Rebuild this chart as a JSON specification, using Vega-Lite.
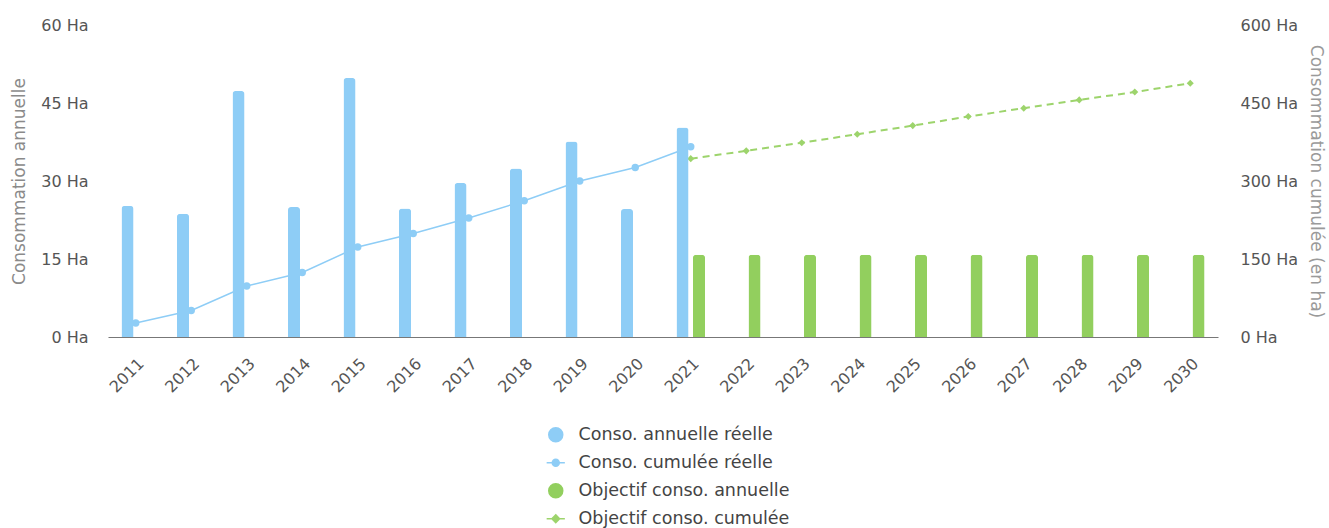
{
  "$schema": "https://vega.github.io/schema/vega-lite/v6.json",
  "width": 1110,
  "height": 312,
  "autosize": {"type": "none"},
  "padding": {"left": 108, "top": 25, "right": 111, "bottom": 191},
  "background": "white",
  "config": {
    "font": "DejaVu Sans",
    "view": {"stroke": null},
    "axis": {
      "grid": false,
      "ticks": false,
      "domain": false,
      "labelFont": "DejaVu Sans",
      "labelFontSize": 16,
      "labelColor": "#555555",
      "titleFont": "DejaVu Sans",
      "titleFontSize": 17,
      "titleFontWeight": "normal",
      "titleColor": "#8a8a8a"
    }
  },
  "data": {
    "values": [
      {"annee": "2011", "serie": "Conso. annuelle réelle", "valeur": 25.2},
      {"annee": "2012", "serie": "Conso. annuelle réelle", "valeur": 23.7},
      {"annee": "2013", "serie": "Conso. annuelle réelle", "valeur": 47.3},
      {"annee": "2014", "serie": "Conso. annuelle réelle", "valeur": 25.0},
      {"annee": "2015", "serie": "Conso. annuelle réelle", "valeur": 49.8},
      {"annee": "2016", "serie": "Conso. annuelle réelle", "valeur": 24.7},
      {"annee": "2017", "serie": "Conso. annuelle réelle", "valeur": 29.6},
      {"annee": "2018", "serie": "Conso. annuelle réelle", "valeur": 32.4},
      {"annee": "2019", "serie": "Conso. annuelle réelle", "valeur": 37.6},
      {"annee": "2020", "serie": "Conso. annuelle réelle", "valeur": 24.6},
      {"annee": "2021", "serie": "Conso. annuelle réelle", "valeur": 40.3},
      {"annee": "2021", "serie": "Objectif conso. annuelle", "valeur": 15.8},
      {"annee": "2022", "serie": "Objectif conso. annuelle", "valeur": 15.8},
      {"annee": "2023", "serie": "Objectif conso. annuelle", "valeur": 15.8},
      {"annee": "2024", "serie": "Objectif conso. annuelle", "valeur": 15.8},
      {"annee": "2025", "serie": "Objectif conso. annuelle", "valeur": 15.8},
      {"annee": "2026", "serie": "Objectif conso. annuelle", "valeur": 15.8},
      {"annee": "2027", "serie": "Objectif conso. annuelle", "valeur": 15.8},
      {"annee": "2028", "serie": "Objectif conso. annuelle", "valeur": 15.8},
      {"annee": "2029", "serie": "Objectif conso. annuelle", "valeur": 15.8},
      {"annee": "2030", "serie": "Objectif conso. annuelle", "valeur": 15.8},
      {"annee": "2011", "serie": "Conso. cumulée réelle", "valeur": 27},
      {"annee": "2012", "serie": "Conso. cumulée réelle", "valeur": 51},
      {"annee": "2013", "serie": "Conso. cumulée réelle", "valeur": 98},
      {"annee": "2014", "serie": "Conso. cumulée réelle", "valeur": 124},
      {"annee": "2015", "serie": "Conso. cumulée réelle", "valeur": 173},
      {"annee": "2016", "serie": "Conso. cumulée réelle", "valeur": 199},
      {"annee": "2017", "serie": "Conso. cumulée réelle", "valeur": 229},
      {"annee": "2018", "serie": "Conso. cumulée réelle", "valeur": 262},
      {"annee": "2019", "serie": "Conso. cumulée réelle", "valeur": 300},
      {"annee": "2020", "serie": "Conso. cumulée réelle", "valeur": 326},
      {"annee": "2021", "serie": "Conso. cumulée réelle", "valeur": 366},
      {"annee": "2021", "serie": "Objectif conso. cumulée", "valeur": 343},
      {"annee": "2022", "serie": "Objectif conso. cumulée", "valeur": 358},
      {"annee": "2023", "serie": "Objectif conso. cumulée", "valeur": 373.5},
      {"annee": "2024", "serie": "Objectif conso. cumulée", "valeur": 390},
      {"annee": "2025", "serie": "Objectif conso. cumulée", "valeur": 406.5},
      {"annee": "2026", "serie": "Objectif conso. cumulée", "valeur": 424},
      {"annee": "2027", "serie": "Objectif conso. cumulée", "valeur": 440},
      {"annee": "2028", "serie": "Objectif conso. cumulée", "valeur": 456},
      {"annee": "2029", "serie": "Objectif conso. cumulée", "valeur": 471},
      {"annee": "2030", "serie": "Objectif conso. cumulée", "valeur": 488}
    ]
  },
  "encoding": {
    "x": {
      "field": "annee",
      "type": "ordinal",
      "scale": {"paddingInner": 0, "paddingOuter": 0},
      "axis": {
        "title": null,
        "domain": true,
        "domainColor": "#777777",
        "labelAngle": -45,
        "labelPadding": 18
      }
    },
    "color": {
      "field": "serie",
      "type": "nominal",
      "scale": {
        "domain": ["Conso. annuelle réelle", "Conso. cumulée réelle", "Objectif conso. annuelle", "Objectif conso. cumulée"],
        "range": ["#8ecdf6", "#8ecdf6", "#92cf5e", "#9dd46c"]
      },
      "legend": {
        "orient": "none",
        "legendX": 439,
        "legendY": 401,
        "direction": "vertical",
        "title": null,
        "labelFont": "DejaVu Sans",
        "labelFontSize": 17.5,
        "labelColor": "#444444",
        "labelLimit": 0,
        "symbolSize": 196,
        "rowPadding": 8,
        "labelOffset": 14,
        "encode": {
          "symbols": {
            "update": {
              "shape": {"signal": "datum.value === 'Conso. cumulée réelle' ? 'M-1.3,0H1.3M-0.5,0A0.5,0.5 0 1,1 0.5,0A0.5,0.5 0 1,1 -0.5,0' : datum.value === 'Objectif conso. cumulée' ? 'M-1.3,0H1.3M0,-0.55L0.55,0L0,0.55L-0.55,0Z' : 'circle'"},
              "fill": {"signal": "scale('color', datum.value)"},
              "stroke": {"signal": "scale('color', datum.value)"},
              "strokeWidth": {"value": 1.5},
              "opacity": {"value": 1},
              "fillOpacity": {"value": 1},
              "strokeOpacity": {"value": 1}
            }
          }
        }
      }
    }
  },
  "layer": [
    {
      "encoding": {
        "y": {
          "field": "valeur",
          "type": "quantitative",
          "scale": {"domain": [0, 600], "nice": false},
          "axis": {
            "orient": "right",
            "values": [0, 150, 300, 450, 600],
            "labelExpr": "datum.value + ' Ha'",
            "labelPadding": 22,
            "title": "Consommation cumulée (en ha)",
            "titleAngle": 90,
            "titlePadding": 9,
            "titleColor": "#9a9a9a"
          }
        }
      },
      "layer": [
        {
          "transform": [{"filter": "datum.serie === 'Conso. cumulée réelle'"}],
          "mark": {"type": "line", "strokeWidth": 1.5, "point": {"filled": true, "size": 55}}
        },
        {
          "transform": [{"filter": "datum.serie === 'Objectif conso. cumulée'"}],
          "mark": {"type": "line", "strokeWidth": 2, "strokeDash": [7, 5], "point": {"filled": true, "shape": "diamond", "size": 50}}
        }
      ]
    },
    {
      "transform": [{"filter": "datum.serie === 'Conso. annuelle réelle' || datum.serie === 'Objectif conso. annuelle'"}],
      "mark": {"type": "bar", "cornerRadiusEnd": 3},
      "encoding": {
        "xOffset": {
          "field": "serie",
          "scale": {"domain": ["Conso. annuelle réelle", "Objectif conso. annuelle"], "paddingInner": 0.27, "paddingOuter": 0.817}
        },
        "y": {
          "field": "valeur",
          "type": "quantitative",
          "scale": {"domain": [0, 60], "nice": false},
          "axis": {
            "orient": "left",
            "values": [0, 15, 30, 45, 60],
            "labelExpr": "datum.value + ' Ha'",
            "labelPadding": 20,
            "title": "Consommation annuelle",
            "titlePadding": 12
          }
        }
      }
    }
  ],
  "resolve": {"scale": {"y": "independent"}}
}
